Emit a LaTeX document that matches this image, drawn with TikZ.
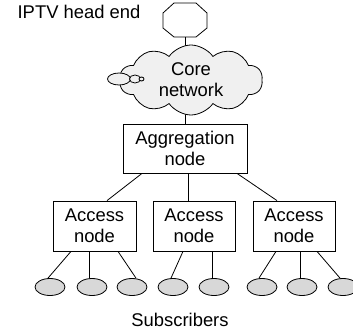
\documentclass[tikz,border=0pt]{standalone}
\usepackage{fontspec}
\setmainfont{Liberation Sans}
\usetikzlibrary{shapes.symbols,shapes.geometric,backgrounds}
\definecolor{cloudgray}{RGB}{240,240,240}
\definecolor{subgray}{RGB}{216,216,216}
\tikzset{
	box/.style={draw,line width=0.8pt,fill=white,inner sep=0pt,align=center},
	subscriber/.style={draw,ellipse,line width=0.8pt,fill=subgray,minimum width=30pt,minimum height=17pt,inner sep=0pt},
	link/.style={line width=0.8pt}
}
\begin{document}
\begin{tikzpicture}[x=1pt,y=-1pt,font=\fontsize{18.4}{21}\selectfont]
			\useasboundingbox (0,0) rectangle (353,334);
			% head end
			\coordinate (head) at (185,37);
			\draw [line width=0.8pt,fill=white] (174,3) -- (196,3) -- (207,13) -- (207,28) -- (196,37) -- (174,37) -- (163,28) -- (163,13) -- cycle;
			\node (headlabel) at (79,12) {IPTV head end};
			% core network
			\node [cloud,cloud puffs=10,cloud puff arc=110,aspect=2,draw,line width=0.8pt,fill=cloudgray,minimum width=143pt,minimum height=70pt,inner sep=0pt,align=center] (core) at (191,80) {Core\\network};
			\draw [line width=0.8pt,fill=cloudgray] (119,79) ellipse (11.5 and 6);
			\draw [line width=0.8pt,fill=cloudgray] (135,79) ellipse (5.5 and 4);
			\draw [line width=0.8pt,fill=cloudgray] (141.5,79) ellipse (2.5 and 2);
			% aggregation and access
			\node [box,minimum width=124pt,minimum height=49pt] (agg) at (185,148.5) {Aggregation\\node};
			\node [box,minimum width=83pt,minimum height=50pt] (acc1) at (94.5,226) {Access\\node};
			\node [box,minimum width=82pt,minimum height=50pt] (acc2) at (194,226) {Access\\node};
			\node [box,minimum width=82pt,minimum height=50pt] (acc3) at (294,226) {Access\\node};
			% subscribers
			\node [subscriber] (sub1) at (50,287) {};
			\node [subscriber] (sub2) at (92,287) {};
			\node [subscriber] (sub3) at (132,287) {};
			\node [subscriber] (sub4) at (173,287) {};
			\node [subscriber] (sub5) at (214,287) {};
			\node [subscriber] (sub6) at (262,287) {};
			\node [subscriber] (sub7) at (302,287) {};
			\node [subscriber] (sub8) at (343,287) {};
			\node (sublabel) at (180,320) {Subscribers};
			% links
			\begin{scope}[on background layer]
				\draw [link] (head) -- (head |- core.center);
				\draw [link] (agg.north |- core.center) -- (agg.north);
			\end{scope}
			\draw [link] ([xshift=-43pt]agg.south) -- ([xshift=12.5pt]acc1.north);
			\draw [link] ([xshift=3pt]agg.south) -- ([xshift=-6pt]acc2.north);
			\draw [link] ([xshift=52pt]agg.south) -- ([xshift=-17pt]acc3.north);
			\draw [link] ([xshift=-23.5pt]acc1.south) -- ([xshift=-2pt]sub1.north);
			\draw [link] ([xshift=-5.5pt]acc1.south) -- ([xshift=-3pt]sub2.north);
			\draw [link] ([xshift=23.5pt]acc1.south) -- ([xshift=4pt]sub3.north);
			\draw [link] ([xshift=-11pt]acc2.south) -- ([xshift=-2pt]sub4.north);
			\draw [link] ([xshift=18pt]acc2.south) -- ([xshift=-2pt]sub5.north);
			\draw [link] ([xshift=-18pt]acc3.south) -- ([xshift=-3pt]sub6.north);
			\draw [link] ([xshift=6pt]acc3.south) -- ([xshift=-2pt]sub7.north);
			\draw [link] ([xshift=23pt]acc3.south) -- ([xshift=-3pt]sub8.north);
		\end{tikzpicture}
\end{document}
